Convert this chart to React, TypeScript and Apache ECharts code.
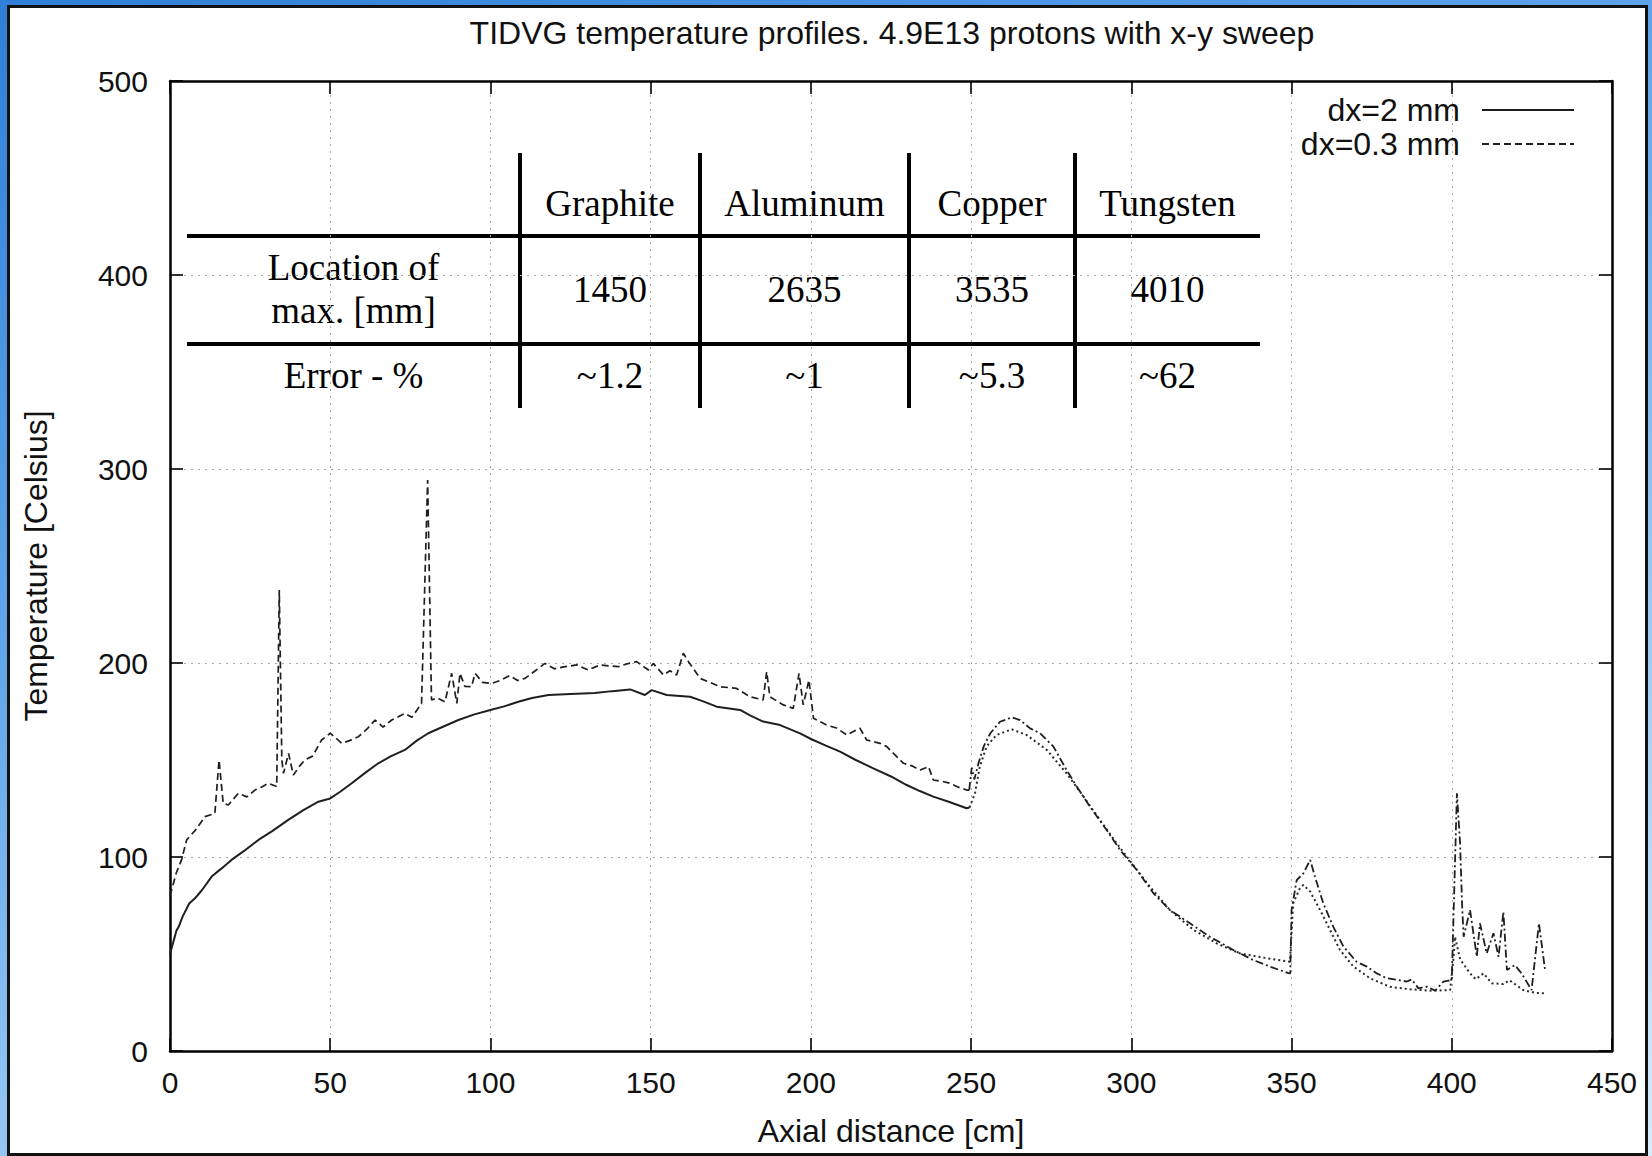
import React, { useEffect, useRef } from "react";
import * as echarts from "echarts";

// ---------- chart texts ----------
const TITLE = "TIDVG temperature profiles. 4.9E13 protons with x-y sweep";
const X_NAME = "Axial distance [cm]";
const Y_NAME = "Temperature [Celsius]";
const SERIES_NAMES = ["dx=2 mm", "dx=0.3 mm"];

// ---------- axis ranges ----------
const X_MIN = 0;
const X_MAX = 450;
const X_STEP = 50;
const Y_MIN = 0;
const Y_MAX = 500;
const Y_STEP = 100;

// ---------- data: dx = 2 mm (coarse mesh) ----------
// 0-250 cm (drawn solid)
const coarseFirst: [number, number][] = [
  [0, 50], [1, 56], [2, 62], [2.7, 64], [4, 69.5], [6, 76], [7.8, 78.7], [10, 83],
  [13, 89.9], [16, 94], [19.2, 98.5], [23, 103], [27.6, 108.8], [32, 113.5],
  [36.9, 119.1], [41.5, 124], [46.3, 128.5], [50, 130.2], [53, 133.5], [56.7, 138],
  [61, 143.5], [65, 148.3], [69, 152], [73.3, 155.2], [77, 160], [80.6, 163.8],
  [85, 167], [90, 170.6], [95, 173.5], [100, 175.8], [104, 177.5], [108.7, 180],
  [113, 182], [118.1, 183.5], [125, 184], [132.6, 184.5], [138, 185.5], [143.6, 186.4],
  [148.2, 183.5], [150.3, 186], [155, 183.5], [162.3, 182.6], [166, 180.5],
  [170.6, 177.5], [177.9, 175.8], [181, 173], [185.1, 169.8], [190.4, 168],
  [196.6, 163.7], [200.2, 160.7], [204.5, 157.5], [209.1, 154.3], [214, 150],
  [219.5, 145.7], [225, 141.5], [229.9, 137.1], [234, 134], [238.2, 131.1],
  [243, 128.5], [248.6, 125.1], [249.5, 125.5],
];
// 250-430 cm (drawn dotted)
const coarseTail: [number, number][] = [
  [249.5, 125.5], [251.2, 132.8], [252.7, 146.5], [254.8, 156.9], [257.9, 162.9],
  [262.7, 165.8], [267.3, 162.9], [273.6, 155.2], [279.8, 143.1], [285.1, 131.1],
  [290.2, 119.1], [295.4, 107.1], [300.2, 96.7], [305.8, 84.7], [312, 72.7],
  [319.4, 62.4], [326.6, 55.5], [333.9, 50.3], [342.3, 47.8], [349.5, 46],
  [350.5, 76.1], [352.6, 83.9], [353.7, 85.6], [355.8, 82.2], [358.9, 72.7],
  [362, 62.4], [365.1, 52.1], [369.3, 43.5], [374.5, 37.5], [380.7, 33.1],
  [387, 31.8], [393.2, 31.1], [399.5, 31.4], [400.5, 47.3], [401, 58.9],
  [402.6, 47.3], [405.7, 40], [407.5, 37], [409.9, 40], [412.5, 34.9], [416.1, 34.5],
  [418, 36.5], [422.3, 31.4], [426, 30], [429.6, 29.7],
];

// ---------- data: dx = 0.3 mm (fine mesh) ----------
// 0-250 cm (drawn dashed)
const fineFirst: [number, number][] = [
  [0, 80], [0.5, 83], [2, 92], [3.6, 98.5], [5.2, 108.8], [8, 114], [10.9, 120.8],
  [14, 122.5], [15.3, 150], [16.6, 127.7], [18.2, 126.8], [21.3, 132.8], [24, 131],
  [26.5, 134.5], [28.5, 136], [30.7, 138], [33.3, 136.3], [34.1, 237.6], [34.9, 150],
  [35.4, 143.1], [37, 153.4], [38.5, 142.2], [40.5, 147], [42.1, 150], [44.5, 152],
  [47.3, 160.3], [50, 163.8], [53.6, 158.6], [56, 160], [58.8, 162], [61.5, 166],
  [64, 170.6], [66.5, 167], [69.2, 170.6], [73.3, 174], [75.5, 172], [78.5, 179.2],
  [80.4, 294.3], [81.6, 181], [83.5, 182], [85.8, 180], [87.9, 194.7], [89.5, 179.2],
  [90.5, 194.7], [92, 188], [94.1, 187.8], [95.2, 194.7], [97.5, 190], [100.4, 189.5],
  [103, 191], [106, 193.5], [108.5, 191], [110.8, 192.1], [114, 196], [117, 199.8],
  [120, 197], [123.3, 198.1], [127, 199], [130.5, 196.4], [134.2, 199], [137, 198.5],
  [139.9, 198.1], [142.5, 199.5], [145.6, 200.7], [149.3, 196.4], [150.8, 199.8],
  [154, 193.8], [156, 196], [158.1, 193.8], [160.2, 205], [161.8, 200.7],
  [165.4, 192.1], [168.5, 190], [171.6, 187.8], [176.8, 186.9], [181, 182.6],
  [185.1, 181], [186.2, 195.5], [187.2, 182.6], [191.4, 178.4], [194.5, 176.6],
  [196.3, 194.7], [197.6, 178.4], [199.4, 191.2], [200.8, 171.5], [204.9, 168],
  [208, 166.5], [211.2, 162.9], [215.3, 166.4], [217.4, 160.3], [221.6, 158.6],
  [223.7, 156.9], [226, 153], [228.9, 148.3], [231.5, 147], [234.1, 144.8],
  [236.7, 146.6], [238.2, 139.7], [241, 139], [243.4, 138], [246, 136],
  [248.6, 134.5], [249.4, 134.5],
];
// 250-430 cm (drawn dash-dot)
const fineTail: [number, number][] = [
  [249.4, 134.5], [250.2, 146], [251, 140], [252.3, 148.3], [253.9, 156.9],
  [256, 163.8], [259, 169.7], [262.7, 172], [265.3, 170.6], [268.4, 166.3],
  [271.5, 163.8], [275.7, 156.9], [279.8, 144.8], [283, 136.2], [287.1, 125.9],
  [292.3, 113.9], [296.5, 103.6], [301.7, 93.3], [306.9, 81.3], [312, 72.7],
  [318.3, 65.8], [324.5, 58.9], [331.8, 52.1], [338, 46.9], [343.3, 43.5],
  [349, 40.1], [349.6, 40], [350, 72.7], [351.6, 88.1], [353.7, 91.6], [355.8, 98.5],
  [357.3, 89.9], [359.9, 76.1], [363, 64.1], [366.2, 53.8], [370.3, 46],
  [373.5, 43.5], [376.6, 40], [379.7, 37.5], [382.8, 36.7], [386, 35.8],
  [387.5, 36.9], [389.6, 32.3], [392.2, 33.2], [394.8, 31.1], [397.4, 35.8],
  [400, 36.7], [401.6, 132.8], [402.6, 107], [403.2, 76.1], [403.7, 58.9],
  [405.7, 72.7], [407.8, 48.6], [408.8, 65.8], [410.9, 50.3], [413, 60.7],
  [414.6, 48.6], [416.1, 71.8], [417.2, 41.8], [419.7, 44.3], [421.8, 40],
  [424.9, 31.4], [427.2, 65.8], [429.1, 41.8],
];

// ---------- inset table ----------
const tableHeaders = ["Graphite", "Aluminum", "Copper", "Tungsten"];
const rowLabelLocation = ["Location of", "max. [mm]"];
const rowLabelError = "Error - %";
const maxLocations = ["1450", "2635", "3535", "4010"];
const errors = ["~1.2", "~1", "~5.3", "~62"];

const SANS = "'Liberation Sans', Arial, Helvetica, sans-serif";
const SERIF = "'Liberation Serif', 'Times New Roman', Times, serif";

function txt(text: string, x: number, y: number, size: number, family: string) {
  return {
    type: "text",
    x,
    y,
    silent: true,
    style: {
      text,
      fontSize: size,
      fontFamily: family,
      fill: "#000",
      align: "center",
      verticalAlign: "middle",
      textAlign: "center",
      textVerticalAlign: "middle",
    },
  };
}

function buildTable() {
  const colEdges = [187, 520, 700, 909, 1075, 1260];
  const hLines = [236, 344];
  const vTop = 153;
  const vBottom = 408;
  const rowY = [203, 289, 375];
  const fs = 37;
  const els: any[] = [];
  hLines.forEach((y) =>
    els.push({
      type: "line",
      silent: true,
      shape: { x1: colEdges[0], y1: y, x2: colEdges[colEdges.length - 1], y2: y },
      style: { stroke: "#000", lineWidth: 4 },
    })
  );
  for (let i = 1; i < colEdges.length - 1; i++) {
    els.push({
      type: "line",
      silent: true,
      shape: { x1: colEdges[i], y1: vTop, x2: colEdges[i], y2: vBottom },
      style: { stroke: "#000", lineWidth: 4 },
    });
  }
  const labelCx = (colEdges[0] + colEdges[1]) / 2;
  els.push(txt(rowLabelLocation[0], labelCx, rowY[1] - 22, fs, SERIF));
  els.push(txt(rowLabelLocation[1], labelCx, rowY[1] + 21, fs, SERIF));
  els.push(txt(rowLabelError, labelCx, rowY[2], fs, SERIF));
  tableHeaders.forEach((h, i) => {
    const cx = (colEdges[i + 1] + colEdges[i + 2]) / 2;
    els.push(txt(h, cx, rowY[0], fs, SERIF));
    els.push(txt(maxLocations[i], cx, rowY[1], fs, SERIF));
    els.push(txt(errors[i], cx, rowY[2], fs, SERIF));
  });
  return els;
}

export default function App() {
  const ref = useRef<HTMLDivElement>(null);

  useEffect(() => {
    if (!ref.current) return;
    const chart = echarts.init(ref.current, undefined, { renderer: "svg" });

    const axisLine = { show: true, onZero: false, lineStyle: { color: "#000", width: 2.5 } };
    const axisTick = { show: true, inside: true, length: 13, lineStyle: { color: "#000", width: 1.6 } };
    const gridLine = { show: true, lineStyle: { color: "#a9a9a9", width: 1, type: [2, 5] } };
    const labelStyle = { fontSize: 30, color: "#111", fontFamily: SANS };
    const nameStyle = { fontSize: 32, color: "#111", fontFamily: SANS };

    const lineBase = {
      type: "line",
      showSymbol: false,
      symbol: "none",
      silent: true,
      clip: true,
      z: 3,
    };

    chart.setOption({
      animation: false,
      backgroundColor: "transparent",
      grid: { left: 170, right: 40, top: 81, bottom: 105, containLabel: false },
      legend: {
        data: SERIES_NAMES,
        orient: "vertical",
        align: "right",
        right: 72,
        top: 89,
        itemWidth: 92,
        itemHeight: 14,
        itemGap: 2,
        selectedMode: false,
        itemStyle: { opacity: 0, color: "rgba(0,0,0,0)", borderColor: "rgba(0,0,0,0)", borderWidth: 0 },
        lineStyle: { opacity: 1 },
        textStyle: { fontSize: 32, lineHeight: 32, color: "#111", fontFamily: SANS, padding: [0, 17, 0, 0] },
      },
      xAxis: [
        {
          type: "value",
          position: "bottom",
          min: X_MIN,
          max: X_MAX,
          interval: X_STEP,
          name: X_NAME,
          nameLocation: "middle",
          nameGap: 64,
          nameTextStyle: nameStyle,
          axisLine,
          axisTick,
          axisLabel: { ...labelStyle, margin: 16 },
          splitLine: gridLine,
        },
        {
          type: "value",
          position: "top",
          min: X_MIN,
          max: X_MAX,
          interval: X_STEP,
          axisLine,
          axisTick,
          axisLabel: { show: false },
          splitLine: { show: false },
        },
      ],
      yAxis: [
        {
          type: "value",
          position: "left",
          min: Y_MIN,
          max: Y_MAX,
          interval: Y_STEP,
          name: Y_NAME,
          nameLocation: "middle",
          nameGap: 118,
          nameTextStyle: nameStyle,
          axisLine,
          axisTick,
          axisLabel: { ...labelStyle, margin: 22 },
          splitLine: gridLine,
        },
        {
          type: "value",
          position: "right",
          min: Y_MIN,
          max: Y_MAX,
          interval: Y_STEP,
          axisLine,
          axisTick,
          axisLabel: { show: false },
          splitLine: { show: false },
        },
      ],
      graphic: [
        {
          type: "text",
          x: 892,
          y: 33,
          silent: true,
          style: {
            text: TITLE,
            fontSize: 32,
            fontFamily: SANS,
            fill: "#111",
            align: "center",
            verticalAlign: "middle",
            textAlign: "center",
            textVerticalAlign: "middle",
          },
        },
        ...buildTable(),
      ],
      series: [
        {
          ...lineBase,
          name: SERIES_NAMES[0],
          data: coarseFirst,
          color: "#1f1f1f",
          lineStyle: { color: "#1f1f1f", width: 2, type: "solid" },
        },
        {
          ...lineBase,
          name: SERIES_NAMES[1],
          data: fineFirst,
          color: "#1f1f1f",
          lineStyle: { color: "#1f1f1f", width: 1.7, type: [7, 4] },
        },
        {
          ...lineBase,
          name: SERIES_NAMES[0],
          data: coarseTail,
          color: "#2a2a2a",
          lineStyle: { color: "#2a2a2a", width: 2, type: [2, 3] },
        },
        {
          ...lineBase,
          name: SERIES_NAMES[1],
          data: fineTail,
          color: "#1f1f1f",
          lineStyle: { color: "#1f1f1f", width: 1.8, type: [8, 3, 2, 3] },
        },
      ],
    });

    return () => chart.dispose();
  }, []);

  return (
    <div
      style={{
        position: "absolute",
        left: 0,
        top: 0,
        width: 1652,
        height: 1156,
        overflow: "hidden",
        background: "linear-gradient(160deg, #2f7fd8 0%, #5ea4ea 35%, #9ccbf4 70%, #d8ecfb 100%)",
      }}
    >
      <div
        style={{
          position: "absolute",
          left: 7,
          top: 5,
          width: 1641,
          height: 1151,
          boxSizing: "border-box",
          border: "3px solid #111",
          background: "#fff",
        }}
      />
      <div ref={ref} style={{ position: "absolute", left: 0, top: 0, width: 1652, height: 1156 }} />
    </div>
  );
}
